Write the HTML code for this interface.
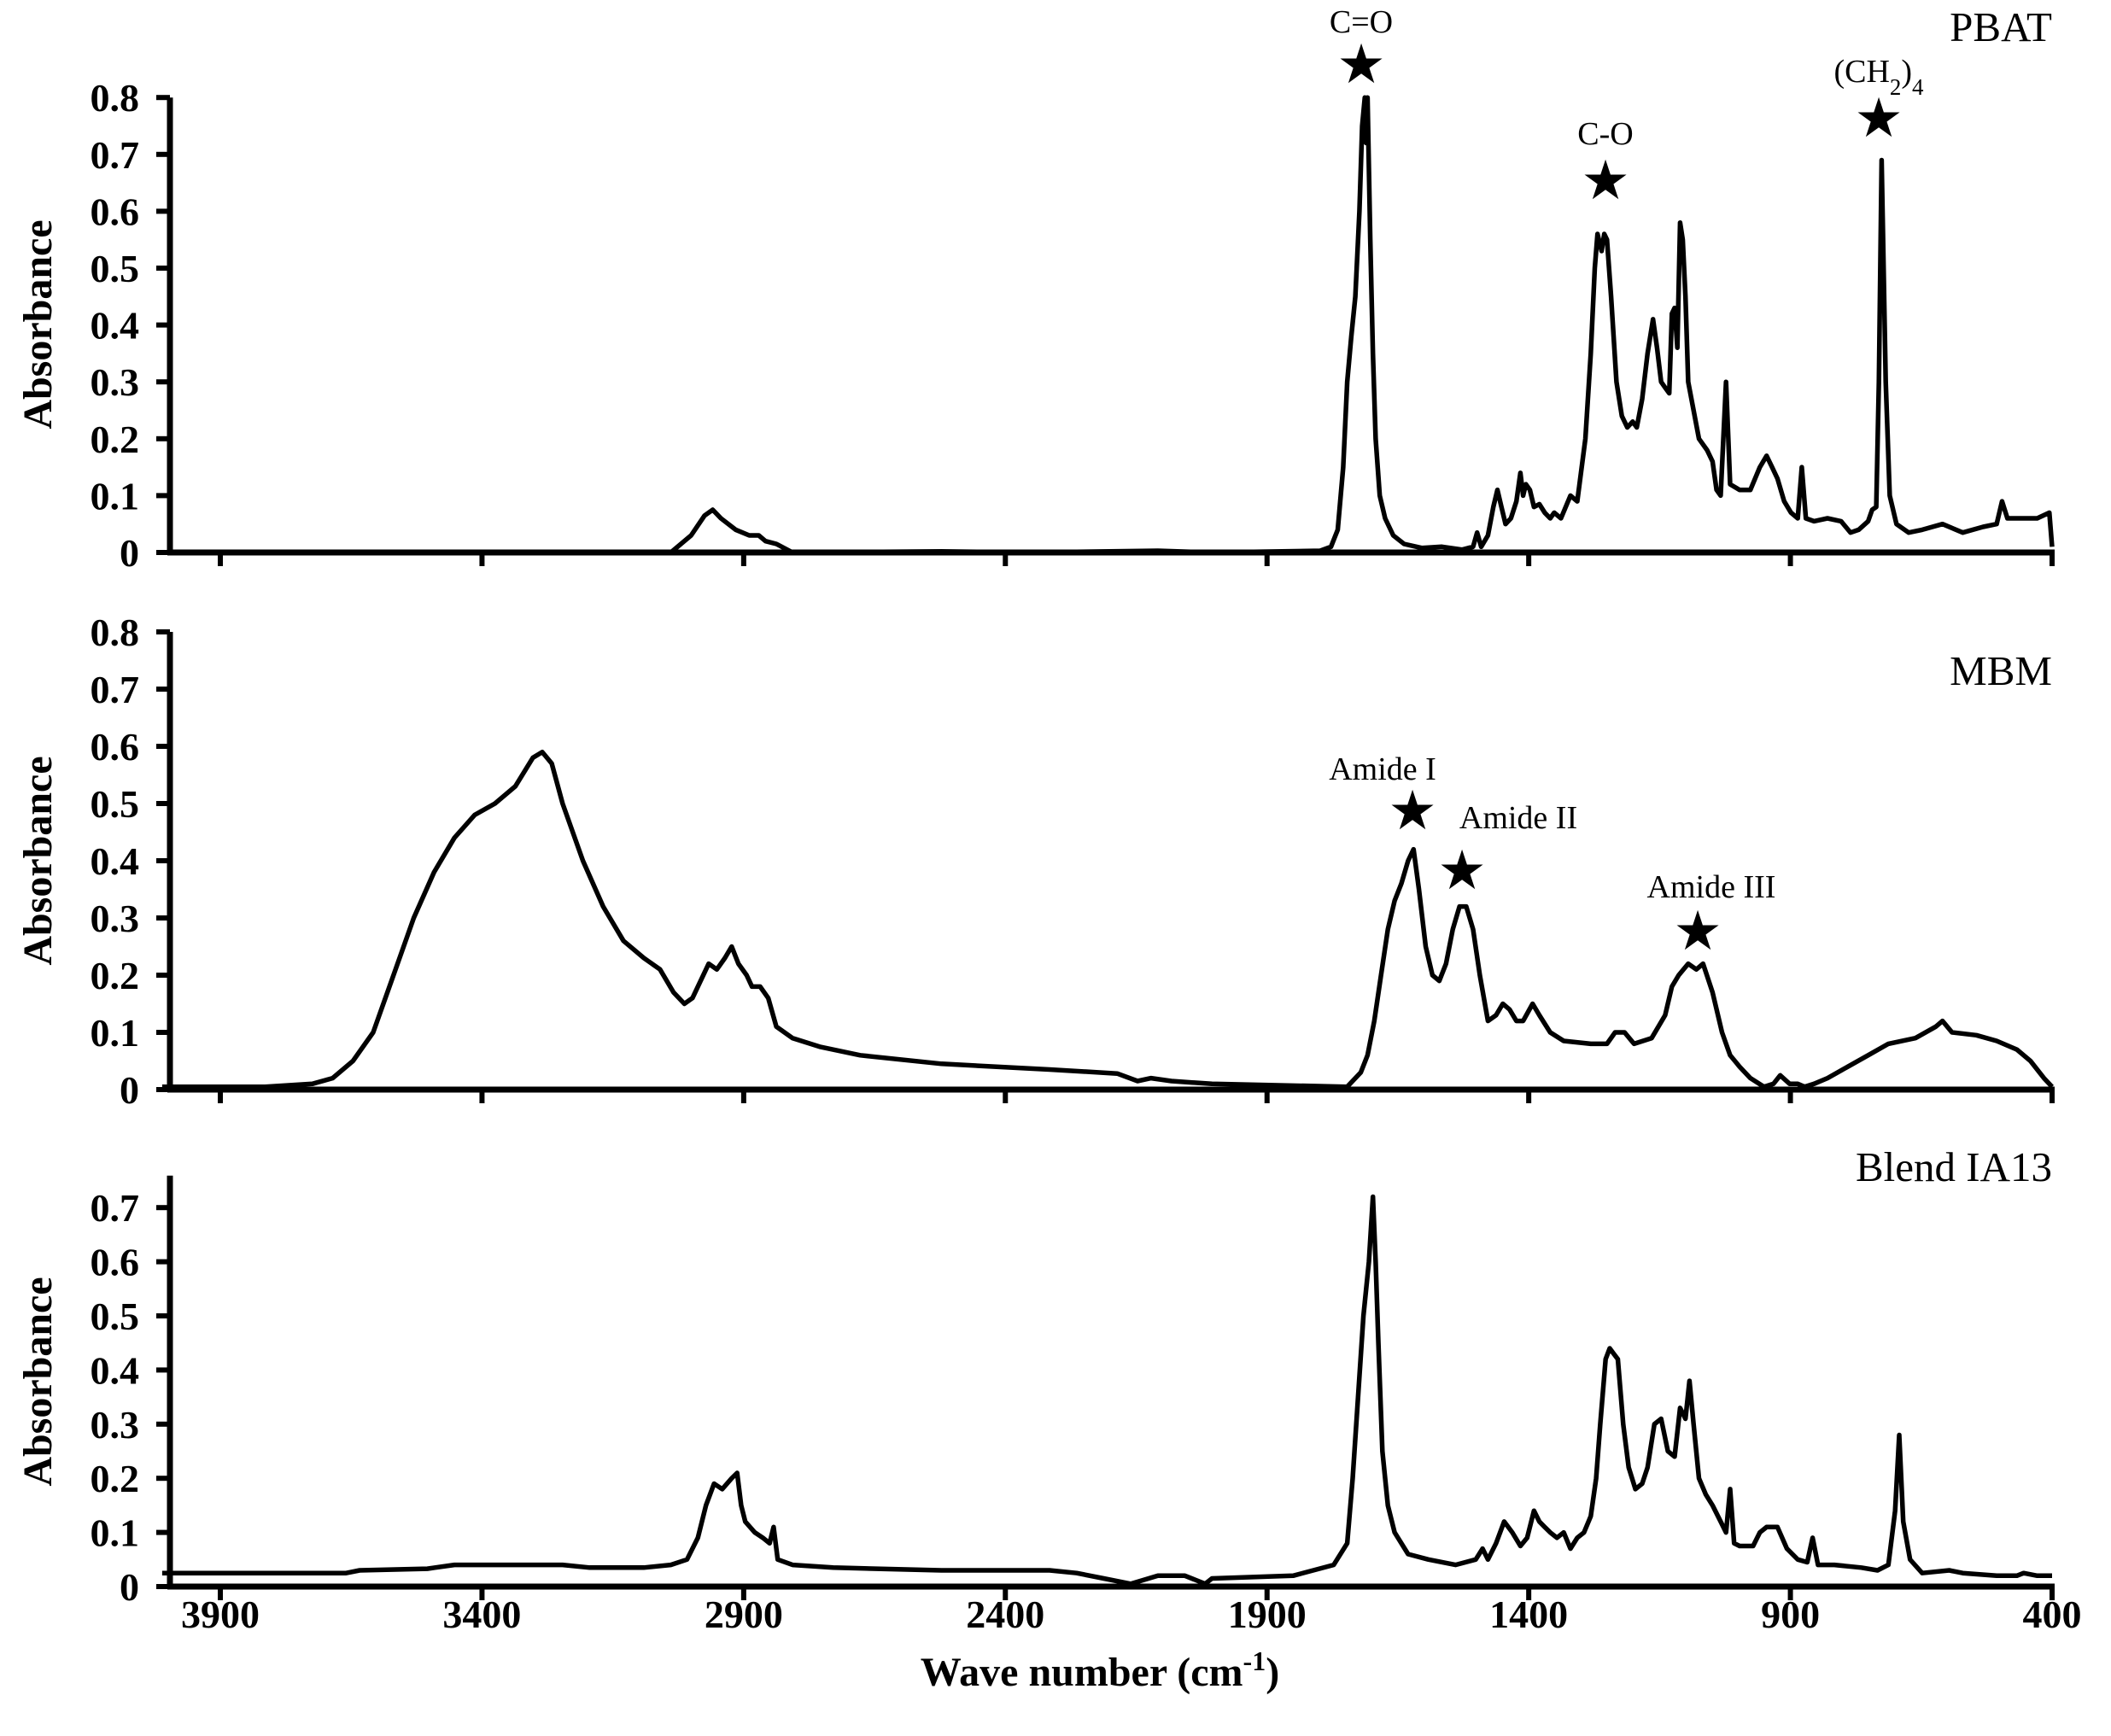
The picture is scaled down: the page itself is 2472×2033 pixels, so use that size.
<!DOCTYPE html>
<html><head><meta charset="utf-8"><style>
html,body{margin:0;padding:0;background:#fff;}
svg{display:block}
text{font-family:"Liberation Serif",serif;fill:#000}
.t{font-size:46px;font-weight:bold}
.lab{font-size:48px;font-weight:bold}
.nm{font-size:49px}
.an{font-size:38px}
.st{font-size:64px}
</style></head><body>
<svg id="s" width="2472" height="2033" viewBox="0 0 2472 2033" xmlns="http://www.w3.org/2000/svg">
<g id="g"></g>
<text class="nm" x="2403" y="48" text-anchor="end">PBAT</text>
<text class="nm" x="2403" y="802" text-anchor="end">MBM</text>
<text class="nm" x="2403" y="1383" text-anchor="end">Blend IA13</text>
<text class="an" x="1594" y="38" text-anchor="middle">C=O</text>
<text class="st" x="1594" y="97" text-anchor="middle">★</text>
<text class="an" x="1880" y="169" text-anchor="middle">C-O</text>
<text class="st" x="1880" y="233" text-anchor="middle">★</text>
<text class="an" x="2200" y="96" text-anchor="middle">(CH<tspan baseline-shift="sub" font-size="27">2</tspan>)<tspan baseline-shift="sub" font-size="27">4</tspan></text>
<text class="st" x="2200" y="160" text-anchor="middle">★</text>
<text class="an" x="1619" y="913" text-anchor="middle">Amide I</text>
<text class="st" x="1654" y="971" text-anchor="middle">★</text>
<text class="an" x="1778" y="970" text-anchor="middle">Amide II</text>
<text class="st" x="1712" y="1041" text-anchor="middle">★</text>
<text class="an" x="2004" y="1051" text-anchor="middle">Amide III</text>
<text class="st" x="1988" y="1112" text-anchor="middle">★</text>
<text class="lab" x="1288" y="1974" text-anchor="middle">Wave number (cm<tspan baseline-shift="super" font-size="32">-1</tspan>)</text>
</svg>
<script>
var g=document.getElementById('g'),NS='http://www.w3.org/2000/svg';
function el(n,a,t){var e=document.createElementNS(NS,n);for(var k in a)e.setAttribute(k,a[k]);if(t!=null)e.textContent=t;g.appendChild(e);return e;}
function X(tx){return 258+(tx-167)*1.5842;}
var AX=199, XR=2403;
var P=[{z:647,d:66.6,top:0.8,max:8},{z:1276,d:67,top:0.8,max:8},{z:1858,d:63.4,top:0.759,max:7}];
P.forEach(function(p,i){
  el('line',{x1:AX,y1:p.z-p.top*10*p.d,x2:AX,y2:p.z+3,stroke:'#000','stroke-width':7});
  el('line',{x1:AX-3,y1:p.z,x2:XR+3,y2:p.z,stroke:'#000','stroke-width':7});
  for(var k=0;k<=p.max;k++){var y=p.z-k*p.d;
    el('line',{x1:AX-16,y1:y,x2:AX,y2:y,stroke:'#000','stroke-width':6});
    el('text',{'class':'t',x:163,y:y+16,'text-anchor':'end'},k==0?'0':'0.'+k);}
  for(var j=0;j<8;j++){var x=258+j*306.43;
    el('line',{x1:x,y1:p.z,x2:x,y2:p.z+16,stroke:'#000','stroke-width':6});
    if(i==2)el('text',{'class':'t',x:x,y:1906,'text-anchor':'middle'},String(3900-500*j));}
});
function yl(cy){el('text',{'class':'lab','text-anchor':'middle',transform:'translate(60,'+cy+') rotate(-90)'},'Absorbance');}
yl(380);yl(1008);yl(1618);
var D1=[124,0,490,0,500,0,515,0.03,525,0.065,531,0.075,537,0.06,548,0.04,558,0.03,565,0.03,570,0.02,578,0.015,590,0,700,0.002,760,0,860,0.003,900,0,980,0.003,988,0.01,993,0.04,997,0.15,1000,0.3,1003,0.38,1006,0.45,1009,0.6,1011,0.75,1013,0.8,1014,0.72,1015,0.8,1017,0.55,1019,0.35,1021,0.2,1024,0.1,1028,0.06,1034,0.03,1042,0.015,1055,0.008,1070,0.01,1085,0.005,1093,0.01,1096,0.035,1099,0.01,1104,0.03,1108,0.08,1111,0.11,1114,0.08,1117,0.05,1121,0.06,1125,0.09,1128,0.14,1130,0.1,1132,0.12,1135,0.11,1138,0.08,1142,0.085,1146,0.07,1150,0.06,1153,0.07,1158,0.06,1165,0.1,1170,0.09,1176,0.2,1180,0.35,1183,0.5,1185,0.56,1188,0.53,1190,0.56,1192,0.55,1195,0.45,1199,0.3,1203,0.24,1207,0.22,1211,0.23,1214,0.22,1218,0.27,1222,0.35,1226,0.41,1229,0.36,1232,0.3,1235,0.29,1238,0.28,1240,0.42,1242,0.43,1244,0.36,1246,0.58,1248,0.55,1250,0.45,1252,0.3,1256,0.25,1260,0.2,1266,0.18,1270,0.16,1273,0.11,1276,0.1,1280,0.3,1283,0.12,1290,0.11,1298,0.11,1305,0.15,1310,0.17,1314,0.15,1318,0.13,1323,0.09,1328,0.07,1333,0.06,1336,0.15,1339,0.06,1345,0.055,1355,0.06,1365,0.055,1372,0.035,1378,0.04,1385,0.055,1388,0.075,1391,0.08,1393,0.3,1395,0.69,1398,0.3,1401,0.1,1406,0.05,1415,0.035,1425,0.04,1440,0.05,1455,0.035,1470,0.045,1480,0.05,1484,0.09,1488,0.06,1510,0.06,1519,0.07,1521,0.01];
var D2=[124,0.005,200,0.005,235,0.01,250,0.02,265,0.05,280,0.1,295,0.2,310,0.3,325,0.38,340,0.44,355,0.48,370,0.5,385,0.53,398,0.58,405,0.59,412,0.57,420,0.5,435,0.4,450,0.32,465,0.26,480,0.23,492,0.21,502,0.17,510,0.15,516,0.16,522,0.19,528,0.22,534,0.21,540,0.23,545,0.25,550,0.22,556,0.2,560,0.18,566,0.18,572,0.16,578,0.11,590,0.09,610,0.075,640,0.06,700,0.045,780,0.035,830,0.028,845,0.015,855,0.02,870,0.015,900,0.01,1000,0.005,1010,0.03,1015,0.06,1020,0.12,1025,0.2,1030,0.28,1035,0.33,1040,0.36,1045,0.4,1049,0.42,1053,0.35,1058,0.25,1063,0.2,1068,0.19,1073,0.22,1078,0.28,1083,0.32,1088,0.32,1093,0.28,1098,0.2,1104,0.12,1110,0.13,1115,0.15,1120,0.14,1125,0.12,1130,0.12,1137,0.15,1142,0.13,1150,0.1,1160,0.085,1180,0.08,1192,0.08,1198,0.1,1205,0.1,1212,0.08,1225,0.09,1235,0.13,1240,0.18,1245,0.2,1252,0.22,1258,0.21,1263,0.22,1270,0.17,1277,0.1,1283,0.06,1290,0.04,1298,0.02,1308,0.005,1315,0.01,1320,0.025,1327,0.01,1333,0.01,1338,0.005,1345,0.01,1355,0.02,1370,0.04,1385,0.06,1400,0.08,1420,0.09,1435,0.11,1440,0.12,1447,0.1,1465,0.095,1480,0.085,1495,0.07,1505,0.05,1515,0.02,1521,0.005];
var D3=[124,0.025,260,0.025,270,0.03,320,0.033,340,0.04,420,0.04,440,0.035,480,0.035,500,0.04,512,0.05,520,0.09,526,0.15,532,0.19,538,0.18,545,0.2,549,0.21,552,0.15,555,0.12,562,0.1,568,0.09,573,0.08,576,0.11,579,0.05,590,0.04,620,0.035,700,0.03,780,0.03,800,0.025,820,0.015,840,0.005,860,0.02,880,0.02,895,0.005,900,0.015,960,0.02,990,0.04,1000,0.08,1004,0.2,1008,0.35,1012,0.5,1016,0.6,1019,0.72,1021,0.6,1023,0.45,1026,0.25,1030,0.15,1035,0.1,1045,0.06,1060,0.05,1080,0.04,1095,0.05,1100,0.07,1104,0.05,1110,0.08,1116,0.12,1122,0.1,1128,0.075,1133,0.09,1138,0.14,1142,0.12,1146,0.11,1150,0.1,1155,0.09,1160,0.1,1165,0.07,1170,0.09,1175,0.1,1180,0.13,1184,0.2,1187,0.3,1191,0.42,1194,0.44,1197,0.43,1200,0.42,1204,0.3,1208,0.22,1213,0.18,1218,0.19,1222,0.22,1227,0.3,1232,0.31,1237,0.25,1242,0.24,1246,0.33,1250,0.31,1253,0.38,1256,0.3,1260,0.2,1265,0.17,1270,0.15,1276,0.12,1280,0.1,1283,0.18,1286,0.08,1290,0.075,1300,0.075,1305,0.1,1310,0.11,1318,0.11,1325,0.07,1333,0.05,1340,0.045,1344,0.09,1348,0.04,1360,0.04,1380,0.035,1392,0.03,1400,0.04,1405,0.14,1408,0.28,1411,0.12,1416,0.05,1425,0.025,1445,0.03,1455,0.025,1480,0.02,1495,0.02,1500,0.025,1510,0.02,1521,0.02];
function draw(D,p){var pts=[];for(var i=0;i<D.length;i+=2){pts.push(X(D[i]).toFixed(1)+','+(p.z-D[i+1]*10*p.d).toFixed(1));}
 el('polyline',{points:pts.join(' '),fill:'none',stroke:'#000','stroke-width':5.5,'stroke-linejoin':'round'});}
draw(D1,P[0]);draw(D2,P[1]);draw(D3,P[2]);
</script>
</body></html>
